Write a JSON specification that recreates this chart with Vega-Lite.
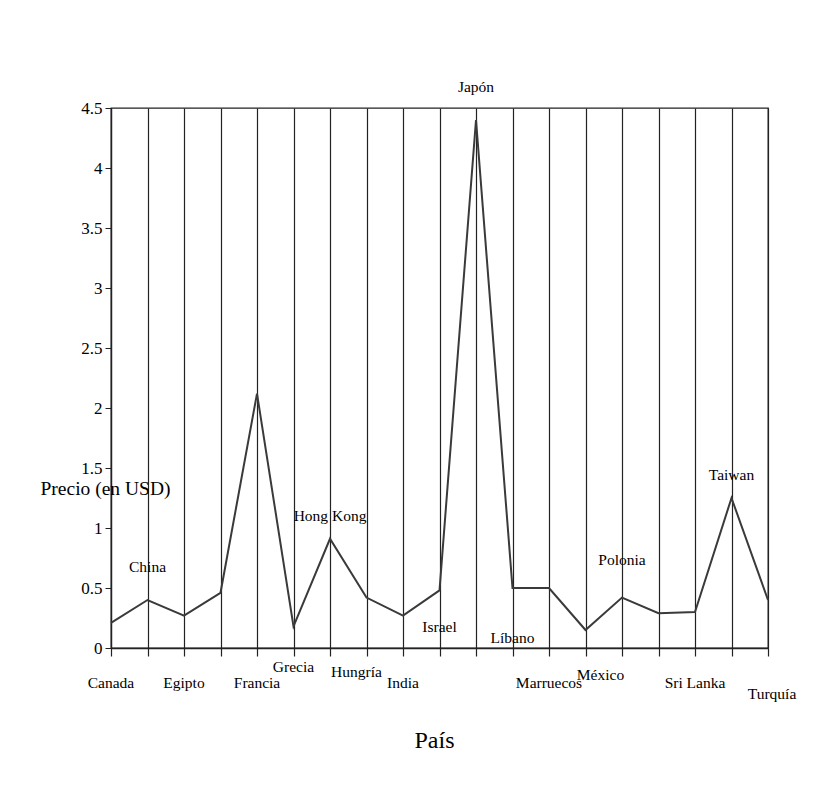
{
  "$schema": "https://vega.github.io/schema/vega-lite/v6.json",
  "width": 657,
  "height": 540,
  "autosize": {"type": "none"},
  "padding": {"left": 111, "top": 108, "right": 59, "bottom": 142},
  "background": "white",
  "config": {
    "view": {"stroke": "#222", "strokeWidth": 1.3},
    "font": "Liberation Serif",
    "text": {"font": "Liberation Serif", "fontSize": 15.5, "color": "#000", "baseline": "middle", "align": "center"}
  },
  "data": {
    "values": [
      {"idx": 1, "pais": "Canada", "precio": 0.21},
      {"idx": 2, "pais": "China", "precio": 0.40},
      {"idx": 3, "pais": "Egipto", "precio": 0.27},
      {"idx": 4, "pais": "", "precio": 0.46},
      {"idx": 5, "pais": "Francia", "precio": 2.12},
      {"idx": 6, "pais": "Grecia", "precio": 0.18},
      {"idx": 7, "pais": "Hong Kong", "precio": 0.91},
      {"idx": 8, "pais": "Hungría", "precio": 0.42},
      {"idx": 9, "pais": "India", "precio": 0.27},
      {"idx": 10, "pais": "Israel", "precio": 0.48},
      {"idx": 11, "pais": "Japón", "precio": 4.40},
      {"idx": 12, "pais": "Líbano", "precio": 0.50},
      {"idx": 13, "pais": "Marruecos", "precio": 0.50},
      {"idx": 14, "pais": "México", "precio": 0.15},
      {"idx": 15, "pais": "Polonia", "precio": 0.42},
      {"idx": 16, "pais": "", "precio": 0.29},
      {"idx": 17, "pais": "Sri Lanka", "precio": 0.30},
      {"idx": 18, "pais": "Taiwan", "precio": 1.25},
      {"idx": 19, "pais": "Turquía", "precio": 0.40}
    ]
  },
  "encoding": {
    "x": {
      "field": "idx",
      "type": "quantitative",
      "scale": {"domain": [1, 19], "nice": false, "zero": false},
      "axis": {
        "values": [1,2,3,4,5,6,7,8,9,10,11,12,13,14,15,16,17,18,19],
        "labels": false,
        "grid": true,
        "gridColor": "#222",
        "gridOpacity": 1,
        "gridWidth": 1.2,
        "tickColor": "#222",
        "tickSize": 8,
        "tickWidth": 1.2,
        "domainColor": "#222",
        "domainWidth": 1.3,
        "title": "País",
        "titleFont": "Liberation Serif",
        "titleFontSize": 24,
        "titleFontWeight": "normal",
        "titleColor": "#000",
        "titleX": 323,
        "titleY": 92,
        "titleAlign": "center",
        "titleBaseline": "middle"
      }
    }
  },
  "layer": [
    {
      "mark": {"type": "line", "color": "#3a3a3a", "strokeWidth": 2},
      "encoding": {
        "y": {
          "field": "precio",
          "type": "quantitative",
          "scale": {"domain": [0, 4.5], "nice": false},
          "axis": {
            "values": [0, 0.5, 1, 1.5, 2, 2.5, 3, 3.5, 4, 4.5],
            "format": "~g",
            "grid": false,
            "tickSize": 6,
            "tickColor": "#222",
            "domainColor": "#222",
            "domainWidth": 1.3,
            "labelFont": "Liberation Serif",
            "labelFontSize": 17,
            "labelColor": "#000",
            "labelPadding": 3,
            "title": "Precio (en USD)",
            "titleFont": "Liberation Serif",
            "titleFontSize": 19.5,
            "titleFontWeight": "normal",
            "titleColor": "#000",
            "titleAngle": 0,
            "titleX": -6,
            "titleY": 380,
            "titleAlign": "center",
            "titleBaseline": "middle"
          }
        }
      }
    },
    {
      "transform": [{"filter": {"field": "pais", "oneOf": ["China", "Japón"]}}],
      "mark": {"type": "text", "dy": -33},
      "encoding": {"y": {"field": "precio", "type": "quantitative"}, "text": {"field": "pais"}}
    },
    {
      "transform": [{"filter": {"field": "pais", "oneOf": ["Hong Kong", "Taiwan"]}}],
      "mark": {"type": "text", "dy": -23},
      "encoding": {"y": {"field": "precio", "type": "quantitative"}, "text": {"field": "pais"}}
    },
    {
      "transform": [{"filter": {"field": "pais", "equal": "Polonia"}}],
      "mark": {"type": "text", "dy": -38},
      "encoding": {"y": {"field": "precio", "type": "quantitative"}, "text": {"field": "pais"}}
    },
    {
      "transform": [{"filter": {"field": "pais", "oneOf": ["Canada", "Egipto", "Francia", "India", "Marruecos", "Sri Lanka"]}}],
      "mark": {"type": "text", "dy": 35},
      "encoding": {"y": {"datum": 0, "type": "quantitative"}, "text": {"field": "pais"}}
    },
    {
      "transform": [{"filter": {"field": "pais", "equal": "Grecia"}}],
      "mark": {"type": "text", "dy": 19},
      "encoding": {"y": {"datum": 0, "type": "quantitative"}, "text": {"field": "pais"}}
    },
    {
      "transform": [{"filter": {"field": "pais", "equal": "Hungría"}}],
      "mark": {"type": "text", "dy": 24, "dx": -10},
      "encoding": {"y": {"datum": 0, "type": "quantitative"}, "text": {"field": "pais"}}
    },
    {
      "transform": [{"filter": {"field": "pais", "equal": "México"}}],
      "mark": {"type": "text", "dy": 27, "dx": 15},
      "encoding": {"y": {"datum": 0, "type": "quantitative"}, "text": {"field": "pais"}}
    },
    {
      "transform": [{"filter": {"field": "pais", "equal": "Turquía"}}],
      "mark": {"type": "text", "dy": 46, "dx": 4},
      "encoding": {"y": {"datum": 0, "type": "quantitative"}, "text": {"field": "pais"}}
    },
    {
      "transform": [{"filter": {"field": "pais", "equal": "Israel"}}],
      "mark": {"type": "text", "dy": -21},
      "encoding": {"y": {"datum": 0, "type": "quantitative"}, "text": {"field": "pais"}}
    },
    {
      "transform": [{"filter": {"field": "pais", "equal": "Líbano"}}],
      "mark": {"type": "text", "dy": -10},
      "encoding": {"y": {"datum": 0, "type": "quantitative"}, "text": {"field": "pais"}}
    }
  ]
}
